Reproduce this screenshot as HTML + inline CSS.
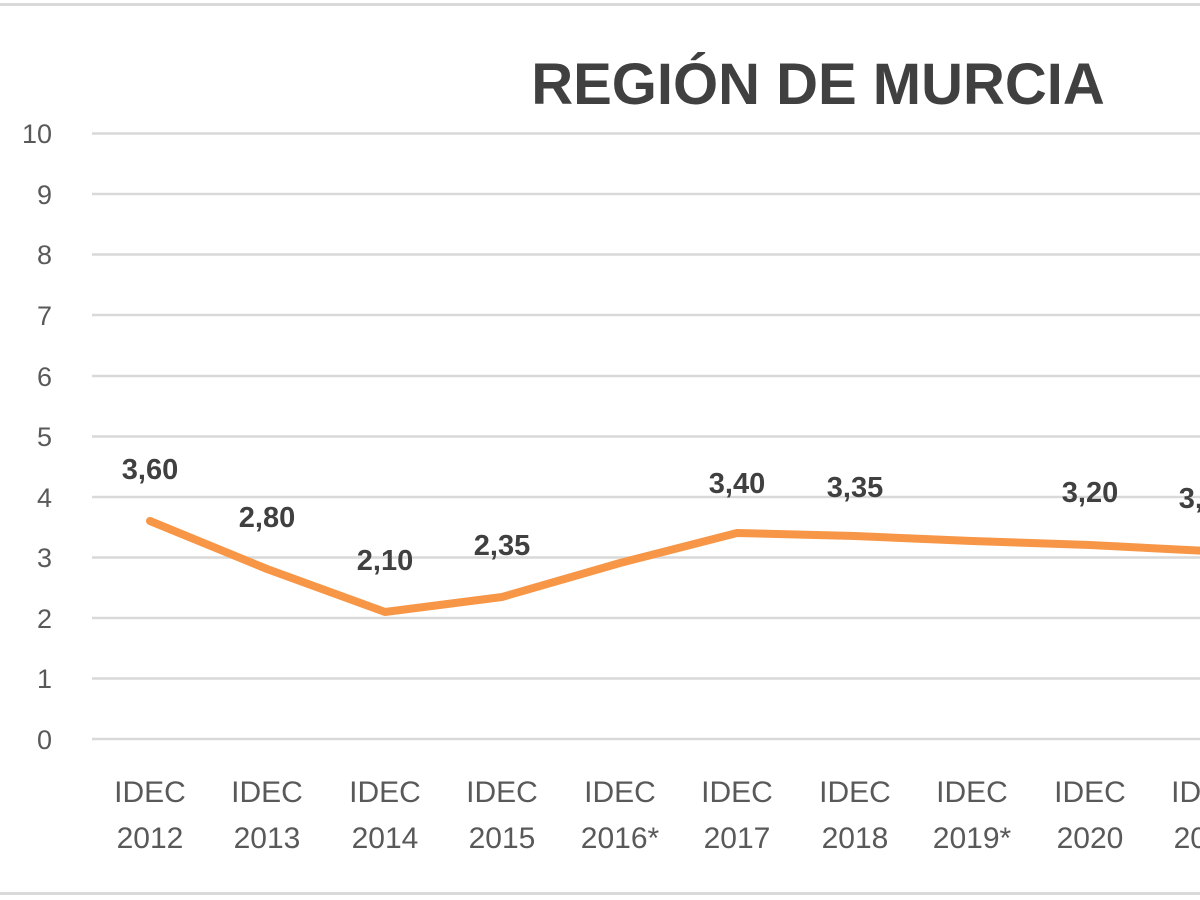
<!DOCTYPE html>
<html><head><meta charset="utf-8"><style>
html,body{margin:0;padding:0;background:#fff;width:1200px;height:900px;overflow:hidden}
svg text{font-family:"Liberation Sans",sans-serif}
</style></head><body>
<svg width="1200" height="900" viewBox="0 0 1200 900" xmlns="http://www.w3.org/2000/svg">
<rect x="0" y="3" width="1200" height="3" fill="#d9d9d9"/>
<rect x="0" y="892" width="1200" height="3" fill="#d9d9d9"/>
<text x="818" y="104" font-size="58" font-weight="bold" fill="#404040" text-anchor="middle">REGIÓN DE MURCIA</text>
<g stroke="#d9d9d9" stroke-width="2.5">
<line x1="92" x2="1200" y1="133.5" y2="133.5"/><line x1="92" x2="1200" y1="194" y2="194"/>
<line x1="92" x2="1200" y1="254.5" y2="254.5"/><line x1="92" x2="1200" y1="315" y2="315"/>
<line x1="92" x2="1200" y1="376" y2="376"/><line x1="92" x2="1200" y1="436.5" y2="436.5"/>
<line x1="92" x2="1200" y1="497" y2="497"/><line x1="92" x2="1200" y1="557.5" y2="557.5"/>
<line x1="92" x2="1200" y1="618" y2="618"/><line x1="92" x2="1200" y1="678.5" y2="678.5"/>
<line x1="92" x2="1200" y1="739" y2="739"/>
</g>
<g font-size="27" fill="#595959" text-anchor="end">
<text x="52" y="143">10</text><text x="52" y="204">9</text><text x="52" y="264">8</text>
<text x="52" y="325">7</text><text x="52" y="386">6</text><text x="52" y="446">5</text>
<text x="52" y="507">4</text><text x="52" y="567">3</text><text x="52" y="628">2</text>
<text x="52" y="688">1</text><text x="52" y="749">0</text>
</g>
<polyline fill="none" stroke="#f79646" stroke-width="8" stroke-linejoin="round" stroke-linecap="round"
points="150,521 267,569 385,612 502,597 620,563 737,533 855,536 972,541 1090,545 1207,551"/>
<g font-size="29" font-weight="bold" fill="#404040" text-anchor="middle">
<text x="150" y="479">3,60</text><text x="267" y="527">2,80</text><text x="385" y="570">2,10</text>
<text x="502" y="555">2,35</text><text x="737" y="493">3,40</text><text x="855" y="497">3,35</text>
<text x="1090" y="502">3,20</text><text x="1207" y="508">3,10</text>
</g>
<g font-size="30" fill="#595959" text-anchor="middle">
<text x="150" y="802">IDEC</text><text x="150" y="848">2012</text>
<text x="267" y="802">IDEC</text><text x="267" y="848">2013</text>
<text x="385" y="802">IDEC</text><text x="385" y="848">2014</text>
<text x="502" y="802">IDEC</text><text x="502" y="848">2015</text>
<text x="620" y="802">IDEC</text><text x="620" y="848">2016*</text>
<text x="737" y="802">IDEC</text><text x="737" y="848">2017</text>
<text x="855" y="802">IDEC</text><text x="855" y="848">2018</text>
<text x="972" y="802">IDEC</text><text x="972" y="848">2019*</text>
<text x="1090" y="802">IDEC</text><text x="1090" y="848">2020</text>
<text x="1207" y="802">IDEC</text><text x="1207" y="848">2021</text>
</g>
</svg>
</body></html>
